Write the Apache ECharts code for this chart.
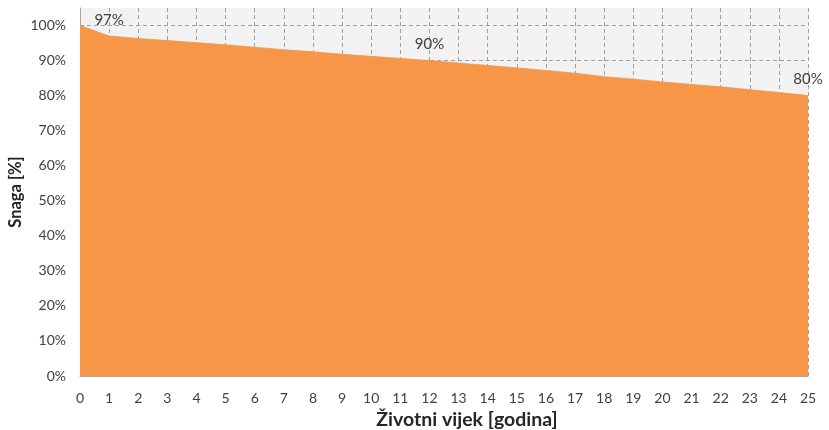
<!DOCTYPE html>
<html>
<head>
<meta charset="utf-8">
<script src="https://cdn.jsdelivr.net/npm/echarts@6/dist/echarts.min.js"></script>
<style>html,body{margin:0;padding:0;background:#fff}#c{width:829px;height:430px}</style>
</head>
<body>
<div id="c"></div>
<script>
var years = [0,1,2,3,4,5,6,7,8,9,10,11,12,13,14,15,16,17,18,19,20,21,22,23,24,25];
var power = [100,97,96.3,95.7,95.1,94.5,93.8,93.1,92.5,91.8,91.2,90.6,90.0,89.3,88.6,87.9,87.2,86.4,85.4,84.7,83.9,83.2,82.5,81.7,80.9,80.0];
var labelYears = [1,12,25];
var labelTexts = ['97%','90%','80%'];
var xAxisTitle = 'Životni vijek [godina]';
var yAxisTitle = 'Snaga [%]';

var FONT = 'Lato, "Open Sans", sans-serif';
var chart = echarts.init(document.getElementById('c'));
chart.setOption({
  animation: false,
  grid: {left: 80, right: 21, top: 8, bottom: 54, containLabel: false, outerBoundsMode: 'none',
         show: true, backgroundColor: '#f2f2f2', borderWidth: 0},
  xAxis: {
    type: 'value', min: 0, max: 25, interval: 1,
    name: xAxisTitle, nameLocation: 'middle', nameGap: 31,
    nameTextStyle: {fontFamily: FONT, fontSize: 19.5, fontWeight: 'bold', color: '#262626', padding: [0,0,0,46]},
    axisLine: {show: true, lineStyle: {color: '#a6a6a6', width: 1}},
    axisTick: {show: false},
    axisLabel: {fontFamily: FONT, fontSize: 14, color: '#404040', margin: 15},
    splitLine: {show: true, showMinLine: false, lineStyle: {color: '#a0a0a0', type: [4,3], width: 1}}
  },
  yAxis: {
    type: 'value', min: 0, max: 105, interval: 10,
    name: yAxisTitle, nameLocation: 'middle', nameGap: 56, nameMoveOverlap: false,
    nameTextStyle: {fontFamily: FONT, fontSize: 16.5, fontWeight: 'bold', color: '#262626'},
    axisLine: {show: true, lineStyle: {color: '#a6a6a6', width: 1}},
    axisTick: {show: false},
    axisLabel: {fontFamily: FONT, fontSize: 14, color: '#404040', margin: 14, showMaxLabel: false,
      formatter: function(v){ return v > 100 ? '' : v + '%'; }},
    splitLine: {show: true, showMinLine: false, showMaxLine: false, lineStyle: {color: '#a0a0a0', type: [4,3], width: 1}}
  },
  series: [{
    type: 'line',
    data: years.map(function(y,i){ return [y, power[i]]; }),
    showSymbol: true,
    symbol: 'circle',
    symbolSize: 1,
    itemStyle: {color: 'rgba(0,0,0,0)', borderWidth: 0},
    lineStyle: {color: '#f39448', width: 0.8},
    areaStyle: {color: '#f79646', opacity: 1},
    label: {
      show: true, position: 'top', distance: 8,
      fontFamily: FONT, fontSize: 15, color: '#404040',
      formatter: function(p){ var k = labelYears.indexOf(p.value[0]); return k >= 0 ? labelTexts[k] : ''; }
    }
  }]
});
</script>
</body>
</html>
